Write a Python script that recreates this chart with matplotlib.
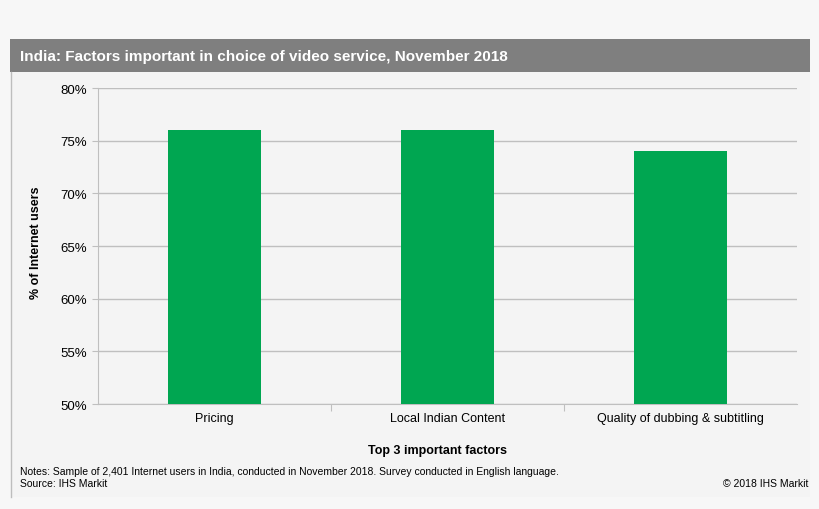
import matplotlib.pyplot as plt
from matplotlib.patches import Rectangle
from matplotlib.lines import Line2D

# chart data
factors = ['Pricing', 'Local Indian Content', 'Quality of dubbing & subtitling']
share = [76, 76, 74]
y_ticks = [50, 55, 60, 65, 70, 75, 80]

plt.rcParams['font.family'] = ['Liberation Sans', 'DejaVu Sans']

W, H = 820, 510
fig = plt.figure(figsize=(W / 100, H / 100), dpi=100, facecolor='#f7f7f7')


def fx(px):
    return px / W


def fy(py):
    return 1 - py / H


# title bar and panel border
fig.patches.append(Rectangle((fx(10), fy(73)), fx(800), 33 / H, transform=fig.transFigure,
                             facecolor='#7f7f7f', edgecolor='none'))
fig.patches.append(Rectangle((fx(11), fy(498)), fx(799), 425 / H, transform=fig.transFigure,
                             facecolor='#f4f4f4', edgecolor='none', zorder=-1))
fig.lines.append(Line2D([fx(11), fx(11)], [fy(73), fy(498)], transform=fig.transFigure,
                        color='#bdbdbd', lw=1))
fig.text(fx(20), fy(57), 'India: Factors important in choice of video service, November 2018',
         color='white', fontsize=11, fontweight='bold', va='center', ha='left')

ax = fig.add_axes([fx(98), fy(405), fx(797 - 98), (405 - 89) / H])
ax.set_facecolor('#f4f4f4')

x = range(len(factors))
ax.bar(x, share, width=0.4, color='#00a651', zorder=3)

ax.set_ylim(50, 80)
ax.set_xlim(-0.5, len(factors) - 0.5)
ax.set_yticks(y_ticks)
ax.set_yticklabels([f'{v}%' for v in y_ticks], fontsize=9.5)
ax.yaxis.grid(True, color='#bfbfbf', lw=1, zorder=0)

ax.set_xticks([i + 0.5 for i in range(len(factors) - 1)], minor=False)
ax.set_xticklabels([])
ax.set_xticks(list(x), minor=True)
ax.set_xticklabels(factors, minor=True, fontsize=9)
ax.tick_params(axis='x', which='major', length=5, color='#bfbfbf')
ax.tick_params(axis='x', which='minor', length=0, pad=6)
ax.tick_params(axis='y', length=4, color='#bfbfbf', pad=4)

for side in ['top', 'right']:
    ax.spines[side].set_visible(False)
for side in ['left', 'bottom']:
    ax.spines[side].set_color('#bfbfbf')

fig.text(fx(36), fy(243), '% of Internet users', rotation=90, fontsize=9,
         fontweight='bold', ha='center', va='center')
fig.text(fx(438), fy(451), 'Top 3 important factors', fontsize=9,
         fontweight='bold', ha='center', va='center')
fig.text(fx(20), fy(472), 'Notes: Sample of 2,401 Internet users in India, conducted in November 2018. '
         'Survey conducted in English language.', fontsize=7.5, ha='left', va='center')
fig.text(fx(20), fy(484), 'Source: IHS Markit', fontsize=7.5, ha='left', va='center')
fig.text(fx(808), fy(484), '\u00a9 2018 IHS Markit', fontsize=7.5, ha='right', va='center')

fig.savefig('out.png', dpi=100, facecolor=fig.get_facecolor())
